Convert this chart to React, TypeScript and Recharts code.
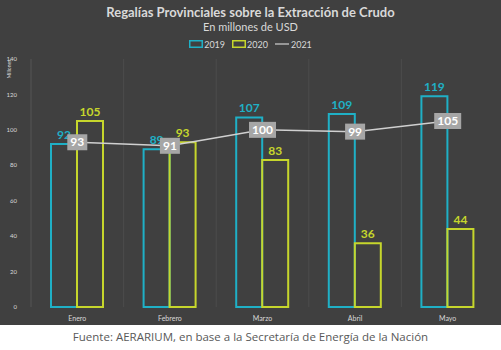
import React from 'react';
import { ComposedChart, Bar, Line, XAxis, YAxis, CartesianGrid, Legend, LabelList } from 'recharts';

const months = ['Enero', 'Febrero', 'Marzo', 'Abril', 'Mayo'];
const y2019 = [92, 89, 107, 109, 119];
const y2020 = [105, 93, 83, 36, 44];
const y2021 = [93, 91, 100, 99, 105];
const yTicks = [0, 20, 40, 60, 80, 100, 120, 140];

const data = months.map((m, i) => ({ month: m, a2019: y2019[i], a2020: y2020[i], a2021: y2021[i] }));

const C19 = '#1fb0c6';
const C20 = '#c6d62c';
const C21 = '#d0d0d0';
const FONT = 'Lato, "Open Sans", sans-serif';

const BoxLabel = (props: any) => {
  const { x, y, value } = props;
  const s = String(value);
  const w = s.length * 7 + 6;
  const h = 16;
  return (
    <g>
      <rect x={x - w / 2} y={y - h / 2} width={w} height={h} fill="#a6a6a6" />
      <text x={x} y={y + 4} textAnchor="middle" fill="#ffffff" fontSize={12} fontWeight={700} fontFamily={FONT}>
        {s}
      </text>
    </g>
  );
};

const LegendContent = () => (
  <div style={{ display: 'flex', justifyContent: 'center', alignItems: 'center', fontFamily: FONT, fontSize: 9, color: '#d9d9d9', height: 12 }}>
    <svg width={14} height={8} style={{ marginRight: 1 }}><rect x={0.75} y={0.75} width={12.5} height={6.5} fill="none" stroke={C19} strokeWidth={1.5} /></svg>
    <span style={{ marginRight: 7 }}>2019</span>
    <svg width={14} height={8} style={{ marginRight: 1 }}><rect x={0.75} y={0.75} width={12.5} height={6.5} fill="none" stroke={C20} strokeWidth={1.5} /></svg>
    <span style={{ marginRight: 7 }}>2020</span>
    <svg width={14} height={8} style={{ marginRight: 2 }}><line x1={0} y1={4} x2={14} y2={4} stroke={C21} strokeWidth={1.2} /></svg>
    <span>2021</span>
  </div>
);

const vGen = ({ offset }: any) => {
  const n = months.length;
  const out: number[] = [];
  for (let i = 1; i < n; i++) out.push(offset.left + (offset.width * i) / n);
  return out;
};

export default function App() {
  return (
    <div style={{ position: 'absolute', left: 0, top: 0, width: 501, height: 350, background: '#ffffff' }}>
      <div style={{ position: 'absolute', left: 0, top: 0, width: 501, height: 325, background: '#404040' }}>
        <div style={{ position: 'absolute', top: 4, width: 501, textAlign: 'center', fontFamily: FONT, fontWeight: 700, fontSize: 13, color: '#d9d9d9' }}>
          Regalías Provinciales sobre la Extracción de Crudo
        </div>
        <div style={{ position: 'absolute', top: 20, width: 501, textAlign: 'center', fontFamily: FONT, fontSize: 11, color: '#d9d9d9' }}>
          En millones de USD
        </div>
        <ComposedChart width={501} height={325} data={data} margin={{ top: 47, right: 7, left: 7, bottom: 0 }} barGap={0} barSize={26}>
          <CartesianGrid horizontal={false} vertical={true} stroke="#4c4c4c" verticalCoordinatesGenerator={vGen} />
          <XAxis dataKey="month" height={18} axisLine={false} tickLine={false} tick={{ fill: '#d9d9d9', fontSize: 7, fontFamily: FONT }} tickMargin={3} interval={0} />
          <YAxis
            domain={[0, 140]}
            ticks={yTicks}
            width={24}
            axisLine={{ stroke: '#555555' }}
            tickLine={false}
            tick={{ fill: '#d9d9d9', fontSize: 6, fontFamily: FONT }}
            tickMargin={8}
            label={(p: any) => (
              <text x={11} y={p.viewBox.y + 10} transform={`rotate(-90 11 ${p.viewBox.y + 10})`} textAnchor="middle" fill="#d9d9d9" fontSize={5} fontFamily={FONT}>
                Millones
              </text>
            )}
          />
          <Legend verticalAlign="top" content={<LegendContent />} wrapperStyle={{ top: 38, left: 0, width: 501 }} />
          <Bar dataKey="a2019" name="2019" fill="none" stroke={C19} strokeWidth={2} isAnimationActive={false}>
            <LabelList dataKey="a2019" position="top" offset={5} fill={C19} fontSize={12} fontWeight={700} fontFamily={FONT} />
          </Bar>
          <Bar dataKey="a2020" name="2020" fill="none" stroke={C20} strokeWidth={2} isAnimationActive={false}>
            <LabelList dataKey="a2020" position="top" offset={5} fill={C20} fontSize={12} fontWeight={700} fontFamily={FONT} />
          </Bar>
          <Line dataKey="a2021" name="2021" stroke={C21} strokeWidth={1.5} dot={false} isAnimationActive={false}>
            <LabelList dataKey="a2021" content={<BoxLabel />} />
          </Line>
        </ComposedChart>
      </div>
      <div style={{ position: 'absolute', top: 329, width: 501, textAlign: 'center', fontFamily: '"Open Sans", sans-serif', fontSize: 11.5, color: '#595959' }}>
        Fuente: AERARIUM, en base a la Secretaría de Energía de la Nación
      </div>
    </div>
  );
}
